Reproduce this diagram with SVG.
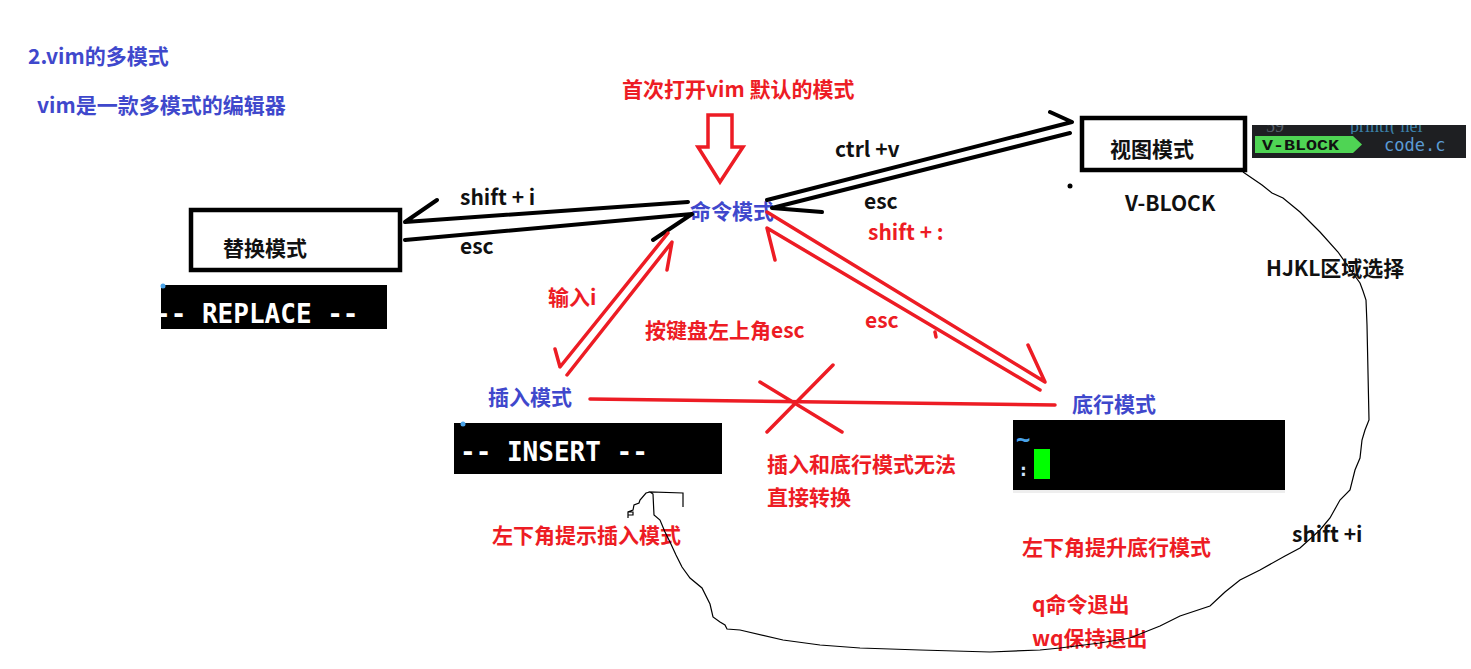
<svg xmlns="http://www.w3.org/2000/svg" width="1471" height="669" viewBox="0 0 1471 669">
<style>
text{font-family:"Noto Sans CJK SC","Microsoft YaHei",sans-serif;font-weight:bold;font-size:21px}
.b{fill:#3f48cc}
.r{fill:#ed1c24}
.k{fill:#111}
.box{fill:#fff;stroke:#000;stroke-width:4.5}
.bk{fill:none;stroke:#000;stroke-width:4;stroke-linecap:round;stroke-linejoin:round}
.rd{fill:none;stroke:#ed1c24;stroke-width:3.5;stroke-linecap:round;stroke-linejoin:round}
.thin{fill:none;stroke:#000;stroke-width:1.2}
text.mono{font-family:"DejaVu Sans Mono","Liberation Mono",monospace;font-weight:bold;font-size:26px;fill:#fff}
text.code{font-family:"DejaVu Sans Mono","Liberation Mono",monospace}
text.serif{font-family:"Liberation Serif",serif;font-weight:normal;font-size:18px}
</style>
<rect width="1471" height="669" fill="#fff"/>

<g id="title">
<text x="28" y="64" class="b">2.vim的多模式</text>
<text x="37" y="113" class="b">vim是一款多模式的编辑器</text>
</g>

<g id="start-note">
<text x="622" y="97" class="r">首次打开vim 默认的模式</text>
<path d="M708,115 H732 V147 H743 L720,182 L698,147 H708 Z" fill="none" stroke="#ed1c24" stroke-width="3.5" stroke-linejoin="miter"/>
</g>

<g id="command-mode">
<text x="690" y="219" class="b">命令模式</text>
</g>

<g id="view-mode">
<rect x="1082" y="118" width="163" height="52" class="box"/>
<text x="1110" y="157" class="k">视图模式</text>
<circle cx="1070" cy="186" r="2.5" fill="#000"/>
<text x="1125" y="211" class="k">V-BLOCK</text>
<rect x="1252" y="125" width="214" height="33" fill="#1e1f22"/>
<svg x="1252" y="125" width="214" height="9" overflow="hidden">
<text x="14" y="7" class="serif" fill="#55606a">59</text>
<text x="98" y="7" class="serif" fill="#3b7fa8">printf( hel</text>
</svg>
<path d="M1255,136 H1353 L1362,144.5 L1353,153 H1255 Z" fill="#4fd454"/>
<text x="1262" y="150" class="code" style="font-family:'Liberation Mono',monospace;font-size:15px" textLength="77" lengthAdjust="spacingAndGlyphs" fill="#111">V-BLOCK</text>
<text x="1384" y="151" class="code" style="font-size:17px;font-weight:normal" fill="#5b9bd5">code.c</text>
</g>

<g id="replace-mode">
<rect x="191" y="210" width="209" height="60" class="box"/>
<text x="223" y="256" class="k">替换模式</text>
<rect x="161" y="285" width="226" height="44" fill="#000"/>
<circle cx="163" cy="286" r="2.5" fill="#4aa3e8"/>
<svg x="161" y="285" width="226" height="44" overflow="hidden"><text x="-6" y="38" class="mono">-- REPLACE --</text></svg>
</g>

<g id="insert-mode">
<text x="488" y="405" class="b">插入模式</text>
<rect x="454" y="423" width="268" height="51" fill="#000"/>
<circle cx="463" cy="424" r="2.5" fill="#4aa3e8"/>
<text x="460" y="461" class="mono">-- INSERT --</text>
<text x="492" y="543" class="r">左下角提示插入模式</text>
</g>

<g id="bottom-line-mode">
<text x="1072" y="412" class="b">底行模式</text>
<rect x="1013" y="420" width="272" height="70" fill="#000"/>
<rect x="1013" y="490" width="272" height="3" fill="#eee"/>
<text x="1016" y="448" class="code" style="font-size:24px" fill="#4aa3e8">~</text>
<text x="1018" y="476" class="code" style="font-size:18px" fill="#cfe4ff">:</text>
<rect x="1034" y="449" width="16" height="30" fill="#00ff00"/>
<text x="1022" y="555" class="r">左下角提升底行模式</text>
<text x="1032" y="612" class="r">q命令退出</text>
<text x="1032" y="646" class="r">wq保持退出</text>
</g>

<g id="connectors">
<path d="M767,200 L1072,122 M1050,112 L1072,122" class="bk"/>
<path d="M1070,133 L772,208 L822,212" class="bk"/>
<text x="835" y="157" class="k">ctrl +v</text>
<text x="864" y="209" class="k">esc</text>
<path d="M688,202 L405,222 L437,200" class="bk"/>
<path d="M405,240 L692,214 M653,240 L692,214" class="bk"/>
<text x="460" y="205" class="k">shift + i</text>
<text x="460" y="254" class="k">esc</text>
<path d="M668,233 L560,367 L555,349" class="rd"/>
<path d="M567,375 L672,242 L667,270" class="rd"/>
<text x="548" y="305" class="r">输入i</text>
<text x="645" y="338" class="r">按键盘左上角esc</text>
<path d="M767,212 L1045,382 L1028,345" class="rd"/>
<path d="M1040,390 L767,228 L775,260" class="rd"/>
<path d="M935,332 L936,337" class="rd" stroke-width="2.5"/>
<text x="868" y="240" class="r">shift + :</text>
<text x="865" y="328" class="r">esc</text>
<path d="M590,399 L1055,405" class="rd"/>
<path d="M760,382 L842,432 M833,365 L767,432" class="rd" stroke-width="4"/>
<text x="767" y="472" class="r">插入和底行模式无法</text>
<text x="767" y="505" class="r">直接转换</text>
<path d="M1243,172 L1262,185 L1272,193 L1283,198 L1300,212 L1320,232 L1338,252 L1352,272 L1360,283 L1363,291 L1366,300 L1367,325 L1369,420 L1365,430 L1362,440 L1360,458 L1355,470 L1350,490 L1340,500 L1330,518 L1320,530 L1300,548 L1285,556 L1260,570 L1240,580 L1225,592 L1210,606 L1180,616 L1160,626 L1130,638 L1100,643 L1060,648 L1040,650 L990,652 L920,650 L860,648 L820,645 L783,640 L740,630 L727,629 L725,625 L720,622 L713,617 L710,604 L702,588 L690,578 L682,567 L676,555 L670,542 L665,532 L660,520 L654,515 L653,494 L650,492 L683,493 L683,507 M650,492 L646,493 L640,500 L639,503 L634,505 L633,510 L628,512 L628,518 M628,512 L633,512 L633,515 L628,515" class="thin"/>
<text x="1266" y="276" class="k">HJKL区域选择</text>
<text x="1292" y="542" class="k">shift +i</text>
</g>
</svg>
